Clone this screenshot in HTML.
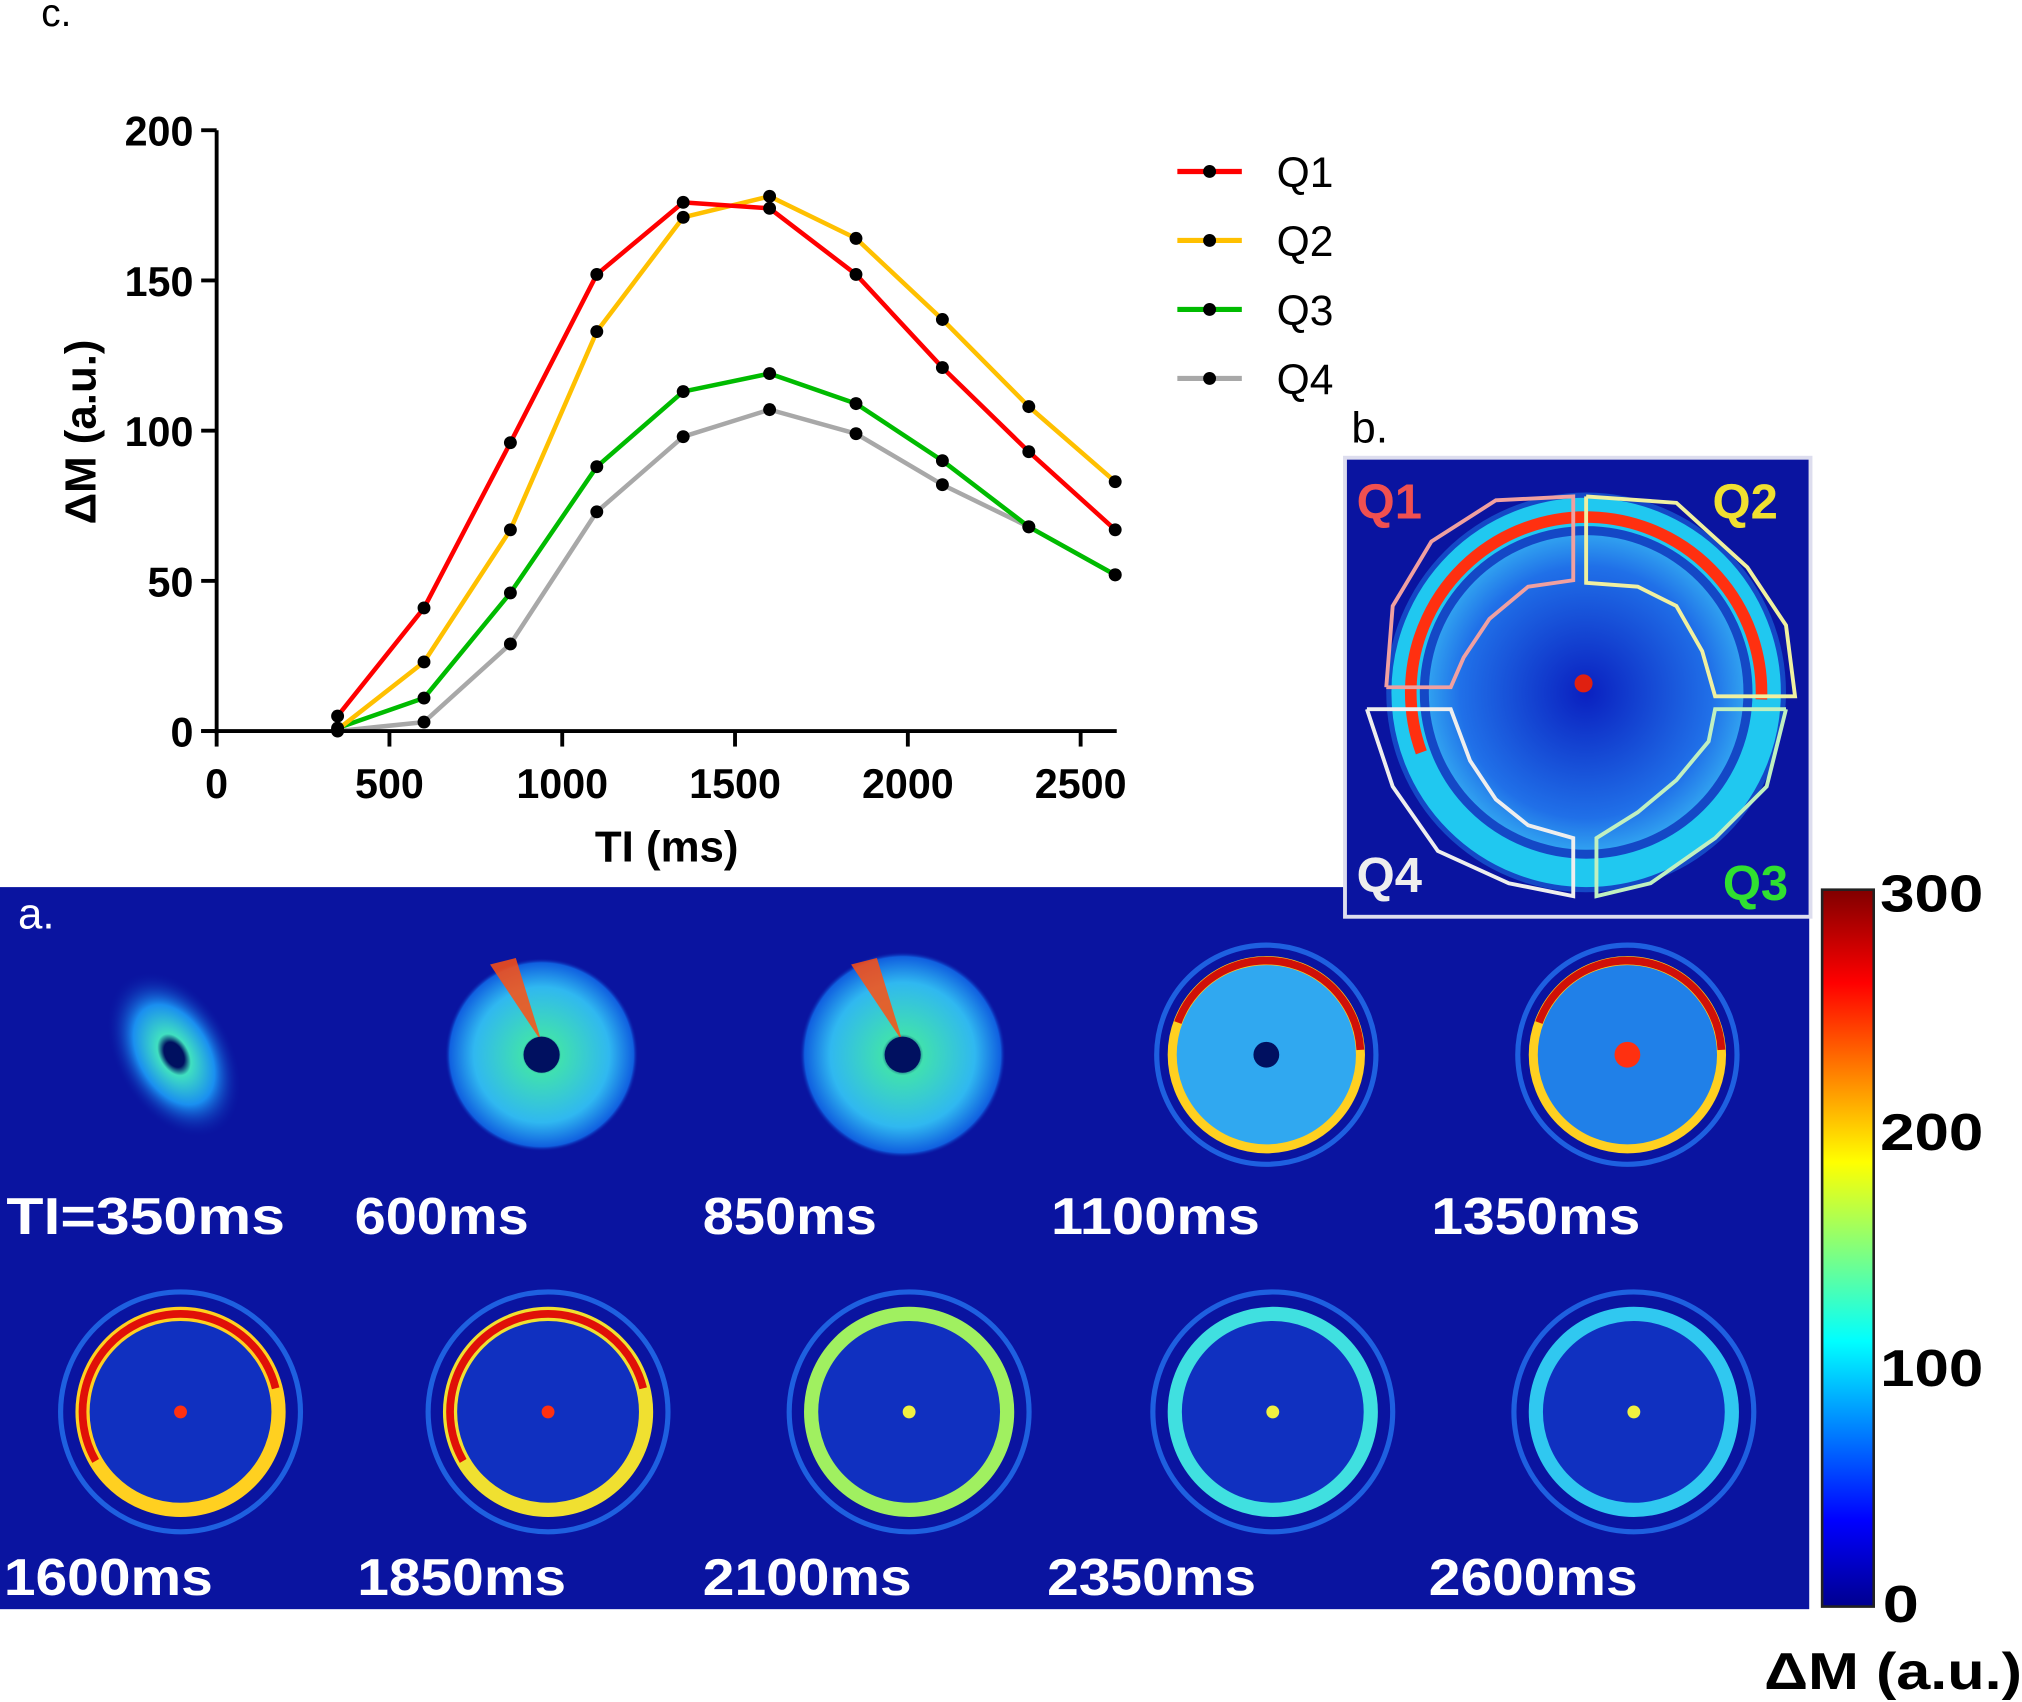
<!DOCTYPE html>
<html><head><meta charset="utf-8"><style>
html,body{margin:0;padding:0;background:#fff;}
svg{display:block;}
text{font-family:"Liberation Sans",sans-serif;}
</style></head><body>
<svg id="svg" width="2022" height="1702" viewBox="0 0 1568 1320" preserveAspectRatio="none" xmlns="http://www.w3.org/2000/svg">
<defs>
<linearGradient id="jet" x1="0" y1="1" x2="0" y2="0">
<stop offset="0" stop-color="#00008f"/><stop offset="0.12" stop-color="#0000ff"/><stop offset="0.37" stop-color="#00ffff"/><stop offset="0.62" stop-color="#ffff00"/><stop offset="0.87" stop-color="#ff0000"/><stop offset="1" stop-color="#800000"/>
</linearGradient>
<radialGradient id="disk1" cx="0.5" cy="0.5" r="0.5"><stop offset="0.15" stop-color="#001060"/><stop offset="0.25" stop-color="#40e0c0"/><stop offset="0.6" stop-color="#1a8ff0"/><stop offset="1" stop-color="#0a14a0" stop-opacity="0"/></radialGradient>
<radialGradient id="disk2" cx="0.5" cy="0.5" r="0.5"><stop offset="0.12" stop-color="#001060"/><stop offset="0.2" stop-color="#40e0b0"/><stop offset="0.7" stop-color="#30b8f0"/><stop offset="0.95" stop-color="#1060e0"/><stop offset="1" stop-color="#0a14a0" stop-opacity="0"/></radialGradient>
<radialGradient id="inner" cx="0.5" cy="0.5" r="0.5"><stop offset="0" stop-color="#0a20c0"/><stop offset="0.8" stop-color="#2070e8"/><stop offset="1" stop-color="#30a0f0"/></radialGradient>
</defs>
<text x="32" y="20" font-size="30" fill="#000">c.</text>
<g id="chart"></g>
<g id="legend"></g>
<rect x="0" y="688" width="1403" height="560" fill="#0a14a0"/>
<text x="14" y="720" font-size="34" fill="#fff">a.</text>
<g id="images"></g>
<text x="1048" y="343" font-size="34" fill="#000">b.</text>
<g>
<rect x="1043" y="355" width="361" height="356" fill="#0a14a0" stroke="#dde" stroke-width="3"/>
<circle cx="1230" cy="537" r="155" fill="#1a6ae0" opacity="0.6"/>
<circle cx="1230" cy="537" r="140" fill="none" stroke="#20c8f0" stroke-width="22"/>
<circle cx="1230" cy="537" r="136" fill="none" stroke="#ff3010" stroke-width="9" stroke-dasharray="480 400" transform="rotate(160 1230 537)"/>
<circle cx="1230" cy="537" r="122" fill="url(#inner)"/>
<circle cx="1228" cy="530" r="7" fill="#e02010"/>
<polyline points="1075,533 1080,470 1110,420 1160,388 1220,385 1220,450 1185,455 1155,480 1135,510 1125,533 1075,533" fill="none" stroke="#f0a0a0" stroke-width="3"/>
<polyline points="1230,385 1300,390 1355,440 1385,485 1392,540 1330,540 1320,505 1300,470 1270,455 1230,452 1230,385" fill="none" stroke="#f0f0a0" stroke-width="3"/>
<polyline points="1385,550 1370,610 1330,650 1280,685 1238,695 1238,650 1270,630 1300,605 1325,575 1330,550 1385,550" fill="none" stroke="#c0f0c0" stroke-width="3"/>
<polyline points="1060,550 1080,610 1115,660 1170,685 1220,695 1220,650 1185,640 1160,620 1140,590 1125,550 1060,550" fill="none" stroke="#eee" stroke-width="3"/>
<text x="1052" y="402" font-size="38" font-weight="bold" fill="#f05050">Q1</text>
<text x="1328" y="402" font-size="38" font-weight="bold" fill="#f0e030">Q2</text>
<text x="1336" y="698" font-size="38" font-weight="bold" fill="#30e030">Q3</text>
<text x="1052" y="692" font-size="38" font-weight="bold" fill="#eee">Q4</text>
</g>
<rect x="1413" y="690" width="40" height="556" fill="url(#jet)" stroke="#222" stroke-width="2"/>
<g font-size="40" font-weight="bold" fill="#000">
<text x="1458" y="707" textLength="80" lengthAdjust="spacingAndGlyphs">300</text>
<text x="1458" y="892" textLength="80" lengthAdjust="spacingAndGlyphs">200</text>
<text x="1458" y="1075" textLength="80" lengthAdjust="spacingAndGlyphs">100</text>
<text x="1460" y="1258" textLength="28" lengthAdjust="spacingAndGlyphs">0</text>
</g>
<text x="1368" y="1310" font-size="40" font-weight="bold" fill="#000" textLength="200" lengthAdjust="spacingAndGlyphs">ΔM (a.u.)</text>
</svg>
<script>
const categories=[350,600,850,1100,1350,1600,1850,2100,2350,2600];
const seriesNames=["Q1","Q2","Q3","Q4"];
const seriesColors=["#ff0000","#ffc000","#00bb00","#a8a8a8"];
const q1=[5,41,96,152,176,174,152,121,93,67];
const q2=[0.5,23,67,133,171,178,164,137,108,83];
const q3=[1,11,46,88,113,119,109,90,68,52];
const q4=[0,3,29,73,98,107,99,82,68,52];
const xTicks=[0,500,1000,1500,2000,2500];
const yTicks=[0,50,100,150,200];
const imageLabels=["TI=350ms","600ms","850ms","1100ms","1350ms","1600ms","1850ms","2100ms","2350ms","2600ms"];

const NS="http://www.w3.org/2000/svg";
const X0=168,X1=838,Y0=567,Y1=101;
const xs=v=>X0+(v/2500)*(X1-X0);
const ys=v=>Y0-(v/200)*(Y0-Y1);
function mk(tag,attrs,parent){const e=document.createElementNS(NS,tag);for(const k in attrs)e.setAttribute(k,attrs[k]);parent.appendChild(e);return e;}
const chart=document.getElementById('chart');
const series=[q1,q2,q3,q4];
for(let s=3;s>=0;s--){
  const pts=categories.map((c,i)=>xs(c)+','+ys(series[s][i])).join(' ');
  const pl=mk('polyline',{points:pts,fill:'none',stroke:seriesColors[s],'stroke-width':3.5,'stroke-linejoin':'round'},chart);
  
  
}
for(let s=3;s>=0;s--){
  categories.forEach((c,i)=>{
    const d=mk('circle',{cx:xs(c),cy:ys(series[s][i]),r:5,fill:'#000'},chart);
    
    
  });
}
const ya=mk('line',{x1:X0,y1:Y1,x2:X0,y2:Y0+2,stroke:'#000','stroke-width':3},chart);


const xa=mk('line',{x1:X0-12,y1:Y0,x2:866,y2:Y0,stroke:'#000','stroke-width':3},chart);


yTicks.forEach(v=>{
  mk('line',{x1:X0-12,y1:ys(v),x2:X0,y2:ys(v),stroke:'#000','stroke-width':3},chart);
  const t=mk('text',{x:X0-18,y:ys(v)+12,'font-size':32,'font-weight':'bold','text-anchor':'end'},chart);
  t.textContent=String(v);
  
  
});
xTicks.forEach(v=>{
  mk('line',{x1:xs(v),y1:Y0,x2:xs(v),y2:Y0+12,stroke:'#000','stroke-width':3},chart);
  const t=mk('text',{x:xs(v),y:Y0+52,'font-size':32,'font-weight':'bold','text-anchor':'middle'},chart);
  t.textContent=String(v);
  
  
});
const xt=mk('text',{x:517,y:668,'font-size':34,'font-weight':'bold','text-anchor':'middle'},chart);
xt.textContent='TI (ms)';


const yt=mk('text',{x:0,y:0,'font-size':34,'font-weight':'bold','text-anchor':'middle',transform:'translate(74,335) rotate(-90)'},chart);
yt.textContent='ΔM (a.u.)';


const lg=document.getElementById('legend');
seriesNames.forEach((n,i)=>{
  const y=133+i*53.5;
  const g=mk('g',{},lg);
  
  
  mk('line',{x1:913,y1:y,x2:963,y2:y,stroke:seriesColors[i],'stroke-width':4},g);
  mk('circle',{cx:938,cy:y,r:5,fill:'#000'},g);
  const t=mk('text',{x:990,y:y+12,'font-size':33},g);
  t.textContent=n;
});
const im=document.getElementById('images');
const cxs=[135,420,700,982,1262];
imageLabels.forEach((lab,i)=>{
  const row=Math.floor(i/5),col=i%5;
  const cx=cxs[col]+(row?5:0), cy=row?1095:818;
  const g=mk('g',{},im);
  
  
  if(row===0){
    if(i===0){mk('ellipse',{cx:cx,cy:cy,rx:45,ry:70,fill:'url(#disk1)',transform:`rotate(-30 ${cx} ${cy})`},g);}
    else if(i<=2){
      const r=i===1?75:80;
      mk('circle',{cx:cx,cy:cy,r:r,fill:'url(#disk2)'},g);
      mk('path',{d:`M${cx-40},${cy-70} L${cx-20},${cy-75} L${cx},${cy-10} Z`,fill:'#ff5010',opacity:0.85},g);
      mk('circle',{cx:cx,cy:cy,r:14,fill:'#001060'},g);
    } else {
      mk('circle',{cx:cx,cy:cy,r:85,fill:'#0a14a0',stroke:'#1e60e0','stroke-width':4},g);
      mk('circle',{cx:cx,cy:cy,r:72,fill:i===3?'#30a8f0':'#2080e8'},g);
      mk('circle',{cx:cx,cy:cy,r:73,fill:'none',stroke:'#ffd020','stroke-width':7},g);
      mk('circle',{cx:cx,cy:cy,r:73,fill:'none',stroke:'#d01008','stroke-width':6,'stroke-dasharray':'200 260',transform:`rotate(200 ${cx} ${cy})`},g);
      mk('circle',{cx:cx,cy:cy,r:10,fill:i===3?'#001060':'#ff3010'},g);
    }
  } else {
    const k=i-5;
    const ringCol=['#ffd020','#f0e030','#a0f060','#40e0e0','#30c8f0'][k];
    mk('circle',{cx:cx,cy:cy,r:93,fill:'none',stroke:'#1e60e0','stroke-width':4},g);
    mk('circle',{cx:cx,cy:cy,r:78,fill:'#1030c0'},g);
    mk('circle',{cx:cx,cy:cy,r:76,fill:'none',stroke:ringCol,'stroke-width':11},g);
    if(k<2)mk('circle',{cx:cx,cy:cy,r:76,fill:'none',stroke:'#e01008','stroke-width':6,'stroke-dasharray':'260 220',transform:`rotate(150 ${cx} ${cy})`},g);
    mk('circle',{cx:cx,cy:cy,r:5,fill:k<2?'#ff3010':'#f0f040'},g);
  }
});
const lx=[5,275,545,815,1110,3,277,545,812,1108];
imageLabels.forEach((lab,i)=>{
  const row=Math.floor(i/5);
  const t=mk('text',{x:lx[i],y:row?1237:957,'font-size':40,'font-weight':'bold',fill:'#fff',textLength:lab.length*27,lengthAdjust:'spacingAndGlyphs'},im);
  t.textContent=lab;
  
  
});
</script>
</body></html>
